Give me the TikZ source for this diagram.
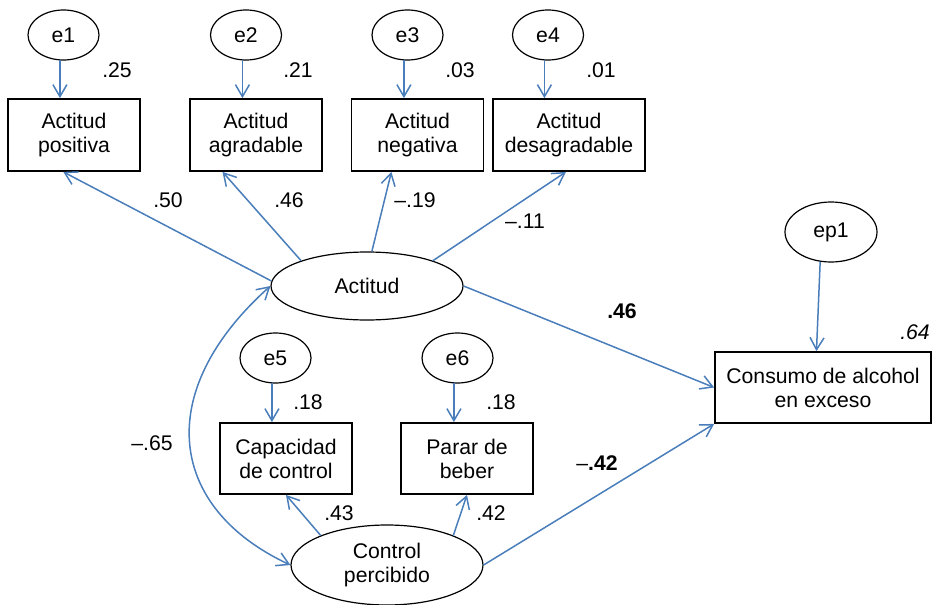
\documentclass[tikz,border=0pt]{standalone}
\usepackage{fontspec}
\setmainfont{Liberation Sans}
\usetikzlibrary{arrows.meta,calc,shapes.geometric}
\definecolor{pathblue}{HTML}{4A7EBB}

\begin{document}
\begin{tikzpicture}[x=0.5pt, y=-0.5pt,
    every node/.style={font=\fontsize{10.6}{12}\selectfont},
    errnode/.style={ellipse, draw, line width=0.6pt, minimum width=35.5pt, minimum height=25pt, inner sep=0pt},
    latnode/.style={ellipse, draw, line width=0.6pt, minimum width=96pt, inner sep=0pt, align=center},
    obsnode/.style={rectangle, draw, line width=0.9pt, align=center, minimum width=66pt, minimum height=36pt, inner sep=0pt},
    arr/.style={draw=pathblue, line width=0.75pt, -{Straight Barb[length=6pt,width=7pt]}},
  ]
  \useasboundingbox (0,0) rectangle (932,605);

  \node[errnode] (e1) at (63.5, 35) {e1};
  \node[errnode] (e2) at (246, 35) {e2};
  \node[errnode] (e3) at (407.5, 35) {e3};
  \node[errnode] (e4) at (548, 35) {e4};
  \node[obsnode] (b1) at (74, 135) {Actitud\\positiva};
  \node[obsnode] (b2) at (256, 135) {Actitud\\agradable};
  \node[obsnode] (b3) at (417.5, 135) {Actitud\\negativa};
  \node[obsnode, minimum width=76pt] (b4) at (569, 135) {Actitud\\desagradable};
  \node[latnode, minimum height=34pt] (act) at (367, 286) {Actitud};
  \node[errnode] (e5) at (275.5, 358) {e5};
  \node[errnode] (e6) at (457.5, 358) {e6};
  \node[obsnode, minimum height=35.5pt] (b5) at (286, 458.5) {Capacidad\\de control};
  \node[obsnode, minimum height=35.5pt] (b6) at (467, 458.5) {Parar de\\beber};
  \node[latnode, minimum height=40pt] (cp) at (387, 565) {Control\\percibido};
  \node[errnode, minimum width=46pt, minimum height=30pt] (ep1) at (831, 232) {ep1};
  \node[obsnode, minimum width=108pt, minimum height=35.5pt] (cons) at (823, 387.5) {Consumo de alcohol\\en exceso};

  % 矢印を引く
  \draw[arr] (e1.262) -- (e1.262 |- b1.north);
  \draw[arr] (e2.262) -- (e2.262 |- b2.north);
  \draw[arr] (e3.262) -- (e3.262 |- b3.north);
  \draw[arr] (e4.262) -- (e4.262 |- b4.north);
  \draw[arr] (e5.262) -- (e5.262 |- b5.north);
  \draw[arr] (e6.262) -- (e6.262 |- b6.north);
  \draw[arr] (ep1.250) -- ($(cons.north west)!0.47!(cons.north east)$);
  \draw[arr] (act.177) -- ($(b1.south west)!0.42!(b1.south east)$);
  \draw[arr] (act.159) -- ($(b2.south west)!0.25!(b2.south east)$);
  \draw[arr] (act.82) -- ($(b3.south west)!0.305!(b3.south east)$);
  \draw[arr] (act.21) -- ($(b4.south west)!0.48!(b4.south east)$);
  \draw[arr] (act.east) -- (cons.west);
  \draw[arr] (cp.east) -- (cons.south west);
  \draw[arr] (cp.156) -- (b5.south);
  \draw[arr] (cp.24) -- (b6.south);
  \draw[arr, {Straight Barb[length=6pt,width=7pt]}-{Straight Barb[length=6pt,width=7pt]}]
    (act.west) .. controls (152, 392) and (168, 508) .. (cp.west);

  \node (v1) at (117, 70) {.25};
  \node (v2) at (298, 70) {.21};
  \node (v3) at (460, 70) {.03};
  \node (v4) at (601, 70) {.01};
  \node (v5) at (308, 402) {.18};
  \node (v6) at (501, 402) {.18};
  \node (v7) at (915, 332) {\itshape .64};
  \node (l1) at (168, 200) {.50};
  \node (l2) at (289, 200) {.46};
  \node (l3) at (415, 200) {–.19};
  \node (l4) at (525, 221) {–.11};
  \node (l5) at (339, 513) {.43};
  \node (l6) at (491, 513) {.42};
  \node (g1) at (622, 311) {\bfseries .46};
  \node (g2) at (597, 463) {–\textbf{.42}};
  \node (r1) at (152, 443) {–.65};
\end{tikzpicture}
\end{document}
